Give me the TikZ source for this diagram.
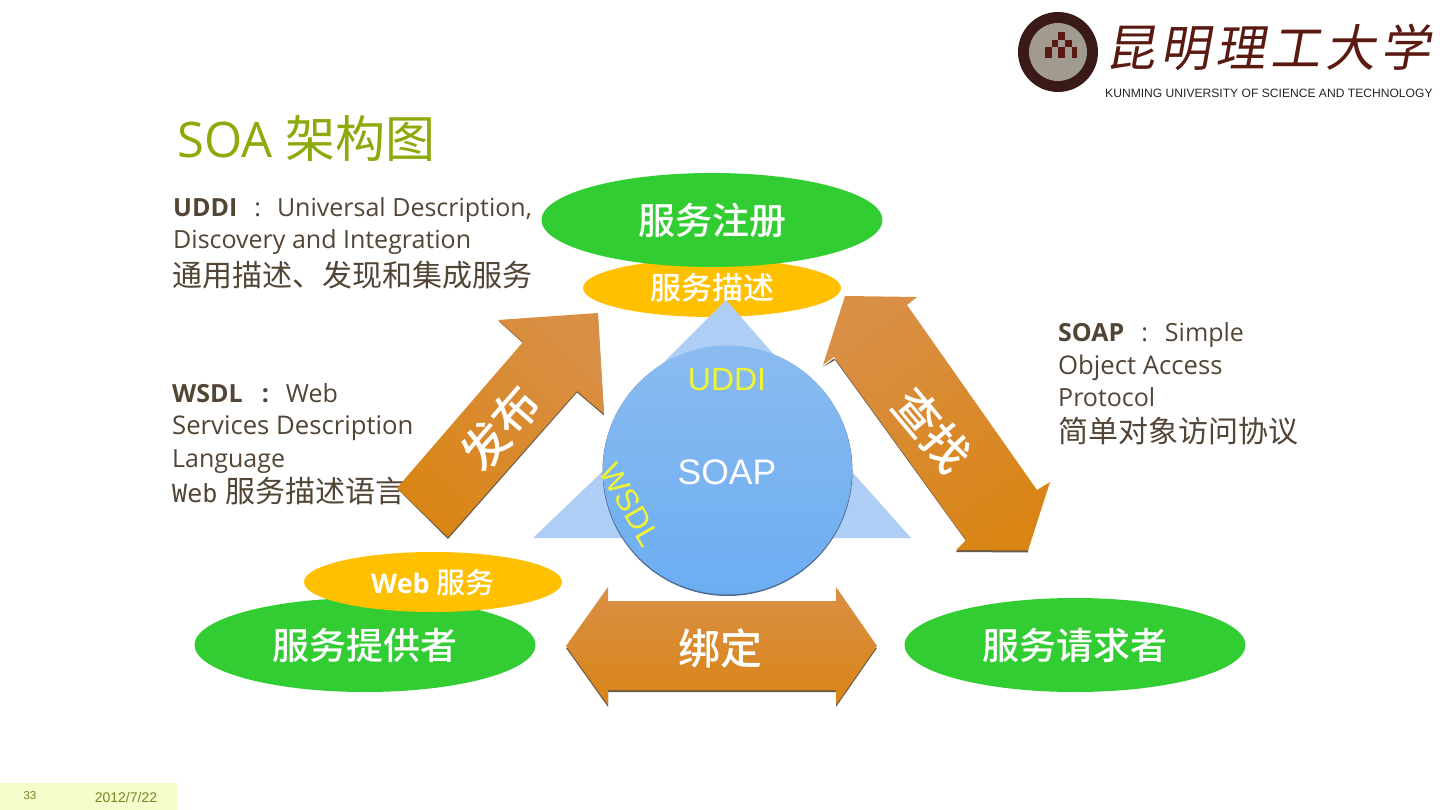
\documentclass[tikz,border=0pt]{standalone}
\usepackage{fontspec}
\usetikzlibrary{shapes.geometric}
\setmainfont{Open Sans}
\newfontfamily\cjk{Noto Sans CJK SC}
\newfontfamily\cjkb{Noto Sans CJK SC Medium}
\newfontfamily\cjks[FakeSlant=0.18]{Noto Sans CJK SC}
\newfontfamily\arialf{Liberation Sans}
\newfontfamily\monof{DejaVu Sans Mono}
\definecolor{txt}{HTML}{524535}
\definecolor{ttl}{HTML}{8CAB0B}
\definecolor{grn}{HTML}{32CD32}
\definecolor{ylw}{HTML}{FFC000}
\definecolor{tri}{HTML}{AECEF5}
\definecolor{shd}{HTML}{6B5A45}
\definecolor{oa}{HTML}{D98F45}
\definecolor{ob}{HTML}{D98516}
\definecolor{logo}{HTML}{5A1A12}
\definecolor{foot}{HTML}{F5FDCC}
\definecolor{foott}{HTML}{76861F}
\definecolor{cta}{HTML}{8ABBF0}
\definecolor{ctb}{HTML}{6CADF2}
\definecolor{cedge}{HTML}{4A6A92}
\definecolor{yl}{HTML}{F0F532}
\definecolor{lgbg}{HTML}{A09A90}
\definecolor{rim}{HTML}{3A1A18}
\newcommand{\fs}[1]{\fontsize{#1}{#1}\selectfont}
\newcommand{\dn}[1]{\raisebox{-2pt}{#1}}
\tikzset{
 x=1pt,y=-1pt,
 ell/.style={ellipse,minimum width=#1,inner sep=0pt,text=white},
 body/.style={anchor=west,text=txt,inner sep=0pt},
 base/.style={anchor=base west,text=txt,inner sep=0pt,font=\fs{25}},
 arrowfill/.style={top color=oa,bottom color=ob,shading angle=#1},
 arrowlab/.style={text=white,inner sep=0pt}
}
\begin{document}
\begin{tikzpicture}
\useasboundingbox (0,0) rectangle (1440,810);
\fill[white] (0,0) rectangle (1440,810);
% footer
\fill[foot] (0,783) rectangle (177,810);
\node[text=foott,inner sep=0pt,font=\arialf\fs{11.5}] (pg) at (30,796) {33};
\node[text=foott,inner sep=0pt,font=\arialf\fs{14}] (dt) at (126,797) {2012/7/22};
% logo
\fill[rim] (1058,52) circle (40);
\fill[lgbg] (1058,52) circle (29);
\fill[logo] (1045,47) rectangle (1052,58);
\fill[logo] (1058,47) rectangle (1065,58);
\fill[logo] (1072,47) rectangle (1077,58);
\fill[logo] (1052,40) rectangle (1058,47);
\fill[logo] (1065,40) rectangle (1072,47);
\fill[logo] (1058,32) rectangle (1065,40);
\node[text=logo,inner sep=0pt,font=\cjks\fs{50}] (lg) at (1268,47) {昆\hspace{5pt}明\hspace{5pt}理\hspace{5pt}工\hspace{5pt}大\hspace{5pt}学};
\node[text=black!85,anchor=west,inner sep=0pt,font=\arialf\fs{12.1}] (lgt) at (1105,93) {KUNMING UNIVERSITY OF SCIENCE AND TECHNOLOGY};
% title
\node[anchor=west,text=ttl,inner sep=0pt,font=\fs{49}] (title) at (177,139) {SOA {\cjk\fs{50}架构图}};
% left text
\node[base] (u1) at (173,217) {\textbf{UDDI}\hspace{17pt}:\hspace{16pt}Universal Description,};
\node[base] (u2) at (173,249) {Discovery and Integration};
\node[body,font=\cjk\fs{30}] (u3) at (172,275) {通用描述、发现和集成服务};
\node[base] (w1) at (172,402) {\textbf{WSDL\hspace{19pt}:}\hspace{17pt}Web};
\node[base,font=\fs{25.7}] (w2) at (172,434) {Services Description};
\node[base] (w3) at (172,467) {Language};
\node[base,font=\fs{30}] (w4) at (172,502) {{\monof\fs{25}Web} {\cjk 服务描述语言}};
% right text
\node[base] (s1) at (1058,341) {\textbf{SOAP}\hspace{17pt}:\hspace{17pt}Simple};
\node[base,font=\fs{25.7}] (s2) at (1058,374) {Object Access};
\node[base] (s3) at (1058,406) {Protocol};
\node[body,font=\cjk\fs{30}] (s4) at (1058,431) {简单对象访问协议};
% top ellipses
\node[ell=258pt,minimum height=58pt,fill=ylw,font=\cjkb\fs{31}] (desc) at (712,288) {\dn{服务描述}};
\node[ell=341pt,minimum height=94pt,fill=grn,font=\cjkb\fs{37}] (reg) at (712,220) {\dn{服务注册}};
% triangles and circle
\fill[tri] (726,300) -- (812,398) -- (640,386) -- cycle;
\fill[tri] (533,538) -- (625,450) -- (680,538) -- cycle;
\fill[tri] (911,538) -- (830,447) -- (790,538) -- cycle;
\fill[cedge] (727.5,471) circle (125);
\shade[top color=cta,bottom color=ctb] (727.5,470) circle (124.5);
\node[text=white,inner sep=0pt,font=\arialf\fs{35.5}] (soap) at (727,472) {SOAP};
\node[text=yl,inner sep=0pt,font=\arialf\fs{32}] (uddi) at (727,380) {UDDI};
\node[text=yl,inner sep=0pt,rotate=-60,font=\arialf\fs{31}] (wsdl) at (630,505) {WSDL};
% arrows
\fill[shd] (499,321.5) -- (523.5,343.5) -- (398,489.5) -- (448,539) -- (577,392.5) -- (604,415.5) -- (598,320) -- cycle;
\shade[arrowfill=-45] (498,320) -- (598,313) -- (604,414) -- (577,391) -- (448,537) -- (397,488) -- (523,342) -- cycle;
\node[arrowlab,rotate=49,font=\cjkb\fs{46}] (pub) at (500,428) {发布};
\fill[shd] (907,306.5) -- (1030,490) -- (1028,552.5) -- (956,552) -- (966,541) -- (834,358.5) -- (823,367) -- (870,340) -- cycle;
\shade[arrowfill=35] (845,296) -- (917,297) -- (907,305) -- (1037,490) -- (1050,482) -- (1028,550.5) -- (956,550) -- (966,540) -- (834,357) -- (823,365) -- cycle;
\node[arrowlab,rotate=-50,font=\cjkb\fs{46}] (find) at (932,430) {查找};
\fill[shd] (566,648) -- (608,707) -- (608,692) -- (836,692) -- (836,707) -- (877,648) -- cycle;
\shade[arrowfill=0] (566,646) -- (608,587) -- (608,601) -- (836,601) -- (836,587) -- (877,646) -- (836,705) -- (836,690) -- (608,690) -- (608,705) -- cycle;
\node[arrowlab,font=\cjkb\fs{42}] (bind) at (720,648) {绑定};
% bottom ellipses
\node[ell=341pt,minimum height=94pt,fill=grn,font=\cjkb\fs{37}] (prov) at (365,645) {\dn{服务提供者}};
\node[ell=258pt,minimum height=60pt,fill=ylw,font=\bfseries\fs{27}] (web) at (433,582) {\dn{Web {\cjkb\mdseries\fs{29}服务}}};
\node[ell=341pt,minimum height=94pt,fill=grn,font=\cjkb\fs{37}] (req) at (1075,645) {\dn{服务请求者}};
\end{tikzpicture}
\end{document}
